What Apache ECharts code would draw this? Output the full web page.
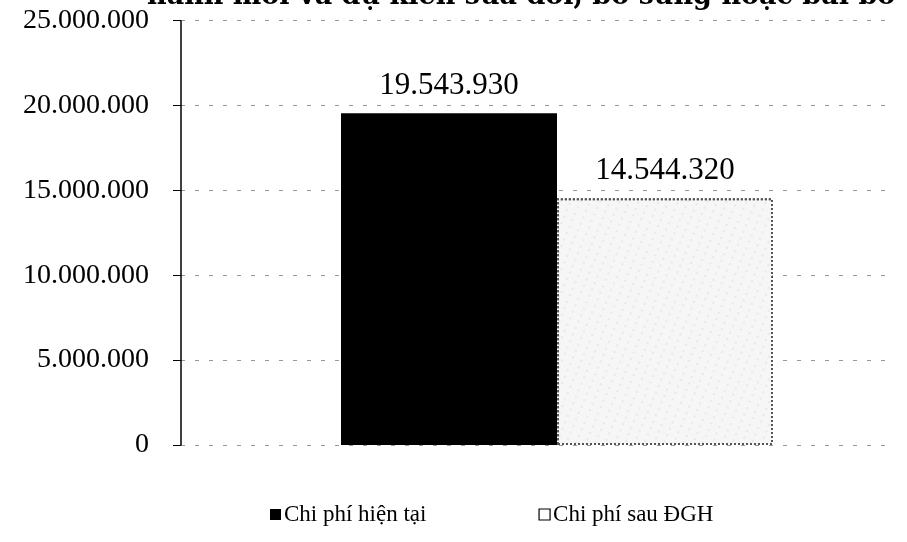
<!DOCTYPE html>
<html>
<head>
<meta charset="utf-8">
<script src="https://cdn.jsdelivr.net/npm/echarts@6/dist/echarts.min.js"></script>
<style>
html,body{margin:0;padding:0;background:#fff;}
#chart{width:907px;height:542px;}
</style>
</head>
<body>
<div id="chart"></div>
<script>
const titleText = 'hành mới và dự kiến sửa đổi, bổ sung hoặc bãi bỏ';
const categories = ['Chi phí'];
const seriesNames = ['Chi phí hiện tại', 'Chi phí sau ĐGH'];
const currentCost = [19543930];
const afterCost = [14544320];
const yMin = 0;
const yMax = 25000000;
const yInterval = 5000000;

function fmt(v) {
  return String(Math.round(v)).replace(/\B(?=(\d{3})+(?!\d))/g, '.');
}

const serif = '"Liberation Serif", "Times New Roman", serif';
const chart = echarts.init(document.getElementById('chart'), null, {renderer: 'canvas'});

chart.setOption({
  animation: false,
  backgroundColor: '#ffffff',
  title: {
    text: titleText,
    left: 147,
    top: -17,
    padding: 0,
    textStyle: {fontFamily: '"DejaVu Serif", serif', fontWeight: 'bold', fontSize: 27, color: '#000'}
  },
  legend: {
    data: [
      {name: seriesNames[0], icon: 'rect', itemStyle: {color: '#000', borderWidth: 0}},
      {name: seriesNames[1], icon: 'rect', itemStyle: {color: '#fff', borderColor: '#000', borderWidth: 1.2, borderType: 'solid', decal: 'none'}}
    ],
    left: 270,
    top: 503,
    itemWidth: 11,
    itemHeight: 11,
    itemGap: 112,
    padding: 0,
    textStyle: {fontFamily: serif, fontSize: 23, color: '#000', padding: [0, 0, 0, -2]}
  },
  grid: [
    {left: 181, right: 22, top: 20.7, bottom: 97, containLabel: false},
    {left: 207, right: 0, top: 20.7, bottom: 97, containLabel: false}
  ],
  xAxis: [
    {gridIndex: 0, type: 'category', data: categories, show: false},
    {gridIndex: 1, type: 'category', data: categories, show: false}
  ],
  yAxis: [
    {
      gridIndex: 0, type: 'value', min: yMin, max: yMax, interval: yInterval,
      axisLine: {show: true, lineStyle: {color: '#000', width: 1.5}},
      axisTick: {show: true, length: 8, lineStyle: {color: '#000', width: 1}},
      axisLabel: {margin: 32, fontFamily: serif, fontSize: 28, color: '#000', formatter: fmt},
      splitLine: {show: true, lineStyle: {color: '#999', width: 1, type: [4, 10]}}
    },
    {
      gridIndex: 1, type: 'value', min: yMin, max: yMax, interval: yInterval, show: false,
      splitLine: {show: false}
    }
  ],
  series: [
    {
      name: seriesNames[0], type: 'bar', xAxisIndex: 1, yAxisIndex: 1,
      data: currentCost, barWidth: 216, barGap: '0%',
      itemStyle: {color: '#000', borderColor: '#000', borderWidth: 0},
      label: {show: true, position: 'top', distance: 12, formatter: p => fmt(p.value),
        fontFamily: serif, fontSize: 31, color: '#000'}
    },
    {
      name: seriesNames[1], type: 'bar', xAxisIndex: 1, yAxisIndex: 1,
      data: afterCost, barWidth: 216, barGap: '0%',
      itemStyle: {
        color: '#f6f6f6', borderColor: '#555', borderWidth: 2, borderType: 'dotted',
        decal: {symbol: 'rect', symbolSize: 0.5, color: 'rgba(90,90,90,0.35)',
          dashArrayX: [[2, 7]], dashArrayY: [2, 5], rotation: 0.4}
      },
      label: {show: true, position: 'top', distance: 12, formatter: p => fmt(p.value),
        fontFamily: serif, fontSize: 31, color: '#000'}
    }
  ]
});
</script>
</body>
</html>
